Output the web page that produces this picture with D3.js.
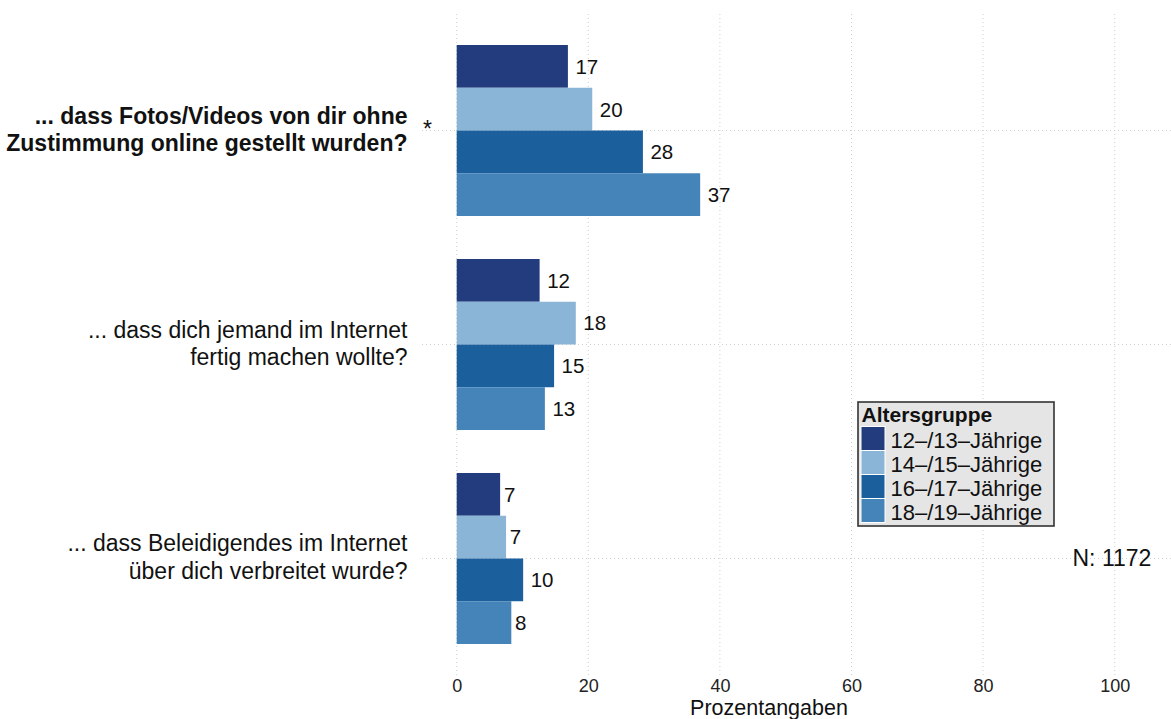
<!DOCTYPE html>
<html><head><meta charset="utf-8">
<script src="https://cdn.jsdelivr.net/npm/d3@7"></script>
<style>
html,body{margin:0;padding:0;background:#fff;}
svg{display:block;font-family:"Liberation Sans",Arial,Helvetica,sans-serif;}
</style></head>
<body>
<svg id="chart" width="1171" height="719"></svg>
<script>
const categories = [
  ["... dass Fotos/Videos von dir ohne", "Zustimmung online gestellt wurden?"],
  ["... dass dich jemand im Internet", "fertig machen wollte?"],
  ["... dass Beleidigendes im Internet", "über dich verbreitet wurde?"]
];
const boldCategory = [true, false, false];
const groups = ["12–/13–Jährige", "14–/15–Jährige", "16–/17–Jährige", "18–/19–Jährige"];
const colors = ["#233c7e", "#8bb5d7", "#1c5f9d", "#4584b9"];
const values = [
  [16.9, 20.6, 28.3, 37.0],
  [12.6, 18.1, 14.8, 13.4],
  [6.6, 7.5, 10.1, 8.3]
];
const valueLabels = [
  ["17", "20", "28", "37"],
  ["12", "18", "15", "13"],
  ["7", "7", "10", "8"]
];
const xTicks = [0, 20, 40, 60, 80, 100];
const legendTitle = "Altersgruppe";
const xTitle = "Prozentangaben";
const nText = "N: 1172";

const svg = d3.select("#chart");
const x = d3.scaleLinear().domain([0, 100]).range([456.7, 1114.7]);
const y = d3.scaleBand().domain(d3.range(categories.length)).range([14, 675])
  .paddingInner(0.2009).paddingOuter(0.1449);
const yInner = d3.scaleBand().domain(d3.range(groups.length)).range([0, y.bandwidth()]);

// grid
const grid = svg.append("g");
grid.selectAll("line.v").data(xTicks).join("line")
  .attr("x1", d => x(d)).attr("x2", d => x(d)).attr("y1", 14).attr("y2", 675)
  .attr("stroke", "#cfcfcf").attr("stroke-width", 1).attr("stroke-dasharray", "1,3");
grid.selectAll("line.h").data(d3.range(categories.length)).join("line")
  .attr("x1", 422).attr("x2", 1171)
  .attr("y1", d => y(d) + y.bandwidth() / 2).attr("y2", d => y(d) + y.bandwidth() / 2)
  .attr("stroke", "#cfcfcf").attr("stroke-width", 1).attr("stroke-dasharray", "1,3");

// bars
const gGroups = svg.append("g").selectAll("g").data(values).join("g")
  .attr("transform", (d, i) => `translate(0,${y(i)})`);
gGroups.selectAll("rect").data(d => d).join("rect")
  .attr("x", x(0)).attr("y", (d, j) => yInner(j))
  .attr("width", d => x(d) - x(0)).attr("height", yInner.bandwidth())
  .attr("fill", (d, j) => colors[j]);
gGroups.each(function (vals, i) {
  d3.select(this).selectAll("text").data(vals).join("text")
    .text((d, j) => valueLabels[i][j])
    .attr("y", (d, j) => yInner(j) + yInner.bandwidth() / 2)
    .attr("dy", "0.36em")
    .attr("font-size", "20.5px").attr("fill", "#111")
    .attr("x", function (d) { return x(d) + 0.33 * this.getComputedTextLength(); });
});

// category labels
categories.forEach((lines, i) => {
  const cy = y(i) + y.bandwidth() / 2;
  const t = svg.append("text").attr("text-anchor", "end")
    .attr("font-size", "23px").attr("fill", "#111")
    .attr("font-weight", boldCategory[i] ? "bold" : "normal");
  t.append("tspan").attr("x", 407.5).attr("y", cy - 7).text(lines[0]);
  t.append("tspan").attr("x", 407.5).attr("y", cy + 20.5).text(lines[1]);
});
// asterisk
svg.append("text").attr("x", 427.5).attr("y", y(0) + y.bandwidth() / 2 + 6)
  .attr("text-anchor", "middle").attr("font-size", "23px").attr("fill", "#111").text("*");

// x axis
const xAxis = svg.append("g").attr("transform", "translate(0,676)")
  .call(d3.axisBottom(x).tickValues(xTicks).tickSize(0).tickPadding(0));
xAxis.select(".domain").remove();
xAxis.selectAll("text").attr("font-size", "18px").attr("fill", "#222")
  .attr("font-family", "Liberation Sans, Arial, sans-serif").attr("dy", "15.5px");
svg.append("text").attr("x", 769).attr("y", 715).attr("text-anchor", "middle")
  .attr("font-size", "21.5px").attr("fill", "#111").text(xTitle);

// N
svg.append("text").attr("x", 1072.5).attr("y", 566).attr("font-size", "23px")
  .attr("fill", "#111").text(nText);

// legend
const lg = svg.append("g");
lg.append("rect").attr("x", 858).attr("y", 402).attr("width", 196).attr("height", 124)
  .attr("fill", "#e5e5e5").attr("stroke", "#333").attr("stroke-width", 1.6);
lg.append("text").attr("x", 861.5).attr("y", 421.5).attr("font-size", "21px")
  .attr("font-weight", "bold").attr("fill", "#111").text(legendTitle);
const legY = d3.scaleBand().domain(d3.range(groups.length)).range([426.5, 522.5]);
lg.selectAll("rect.k").data(groups).join("rect").attr("class", "k")
  .attr("x", 861).attr("y", (d, i) => legY(i)).attr("width", 24).attr("height", legY.bandwidth())
  .attr("fill", (d, i) => colors[i]).attr("stroke", "#fff").attr("stroke-width", 1);
lg.selectAll("text.l").data(groups).join("text").attr("class", "l")
  .attr("x", 890.5).attr("y", (d, i) => legY(i) + legY.bandwidth() - 2.5)
  .attr("font-size", "22px").attr("fill", "#111").text(d => d);
</script>
</body></html>
